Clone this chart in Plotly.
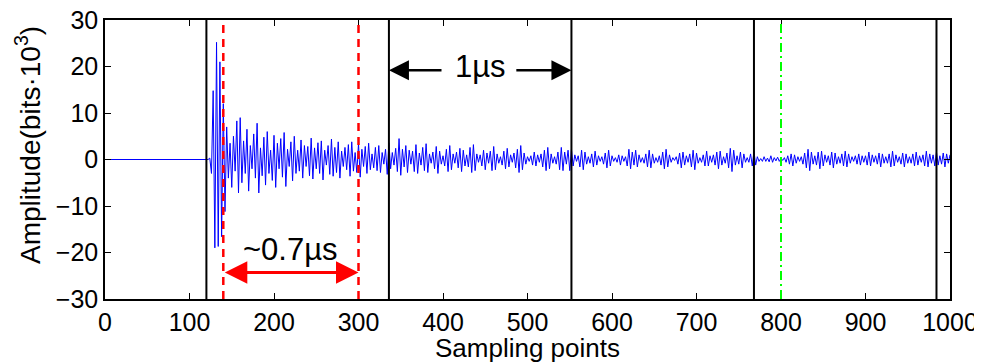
import plotly.graph_objects as go

# ---- data ----
x_ticks = [0, 100, 200, 300, 400, 500, 600, 700, 800, 900, 1000]
y_ticks = [-30, -20, -10, 0, 10, 20, 30]

# sample positions (every 2 samples) and amplitude (bits*10^3)
samples = list(range(0, 1001, 2))
baseline = [0.0] * 62  # samples 0..122, flat before the burst
burst = [
    0.3, -3, 14.8, -19, 25.2, -18.7, 21, -16.6, 12, -11.2,
    7, -4, 3.5, -6, 5, -2.5, 8.3, -7.2, 9, -5,
    4, -3, 6.5, -6.8, 3, -2, 5.5, -4, 7.8, -7.2,
    2.5, -3.5, 4.8, -5.5, 6, -3, 2, -4.5, 5.2, -6,
    3.5, -2, 4.5, -3.8, 5.8, -5.8, 2.2, -1.5, 3.8, -4.6,
    5, -3, 2, -2.5, 4.2, -4, 3, -1.5, 2.8, -3.5,
    4.6, -4.2, 2.5, -2, 3.6, -3, 4, -4.4, 2, -1.2,
    3, -3.2, 4.4, -3.6, 2.6, -2.8, 3.8, -4, 1.8, -1.5,
    2.6, -2.2, 3.2, -3.6, 3.8, -2.5, 1.5, -2.8, 3.4, -3.8,
    2.2, -1.5, 2.8, -3, 3.5, -2.2, 1.2, -1.8, 2.6, -2.4,
    3, -2.8, 1.5, -1, 2.2, -3.2, 3.6, -2, 1.5, -1.2,
    2.4, -2.6, 4.5, -3.4, 2.2, -1.6, 3, -2.8, 2, -1,
    1.8, -2.6, 3.2, -3, 1.4, -1.2, 2.6, -2.4, 3.4, -2.8,
    1.2, -0.8, 1.6, -2, 2.8, -3, 1.8, -1, 0.8, -1.4,
    2.2, -2.6, 3, -2.2, 1.2, -0.8, 1.6, -1.8, 2.4, -2.6,
    2, -1.4, 1, -1.6, 2.6, -2.8, 3.2, -2.4, 1.2, -0.6,
    1, -1.4, 2, -2.2, 1.4, -0.8, 1.8, -2.4, 2.8, -2.2,
    1.2, -0.8, 0.6, -1.2, 1.8, -2, 2.4, -1.6, 1, -0.6,
    1.4, -1.8, 2.2, -2.8, 3, -2.2, 1.4, -1, 0.6, -0.4,
    0.8, -1.2, 1.6, -1.4, 1, -0.6, 1.2, -1.6, 2, -2.4,
    2.6, -2, 1.2, -0.8, 0.6, -1, 1.6, -2.2, 2.6, -2.4,
    1.6, -1, 2, -2.4, 2.2, -1.4, 1, -0.4, 0.8, -1.6,
    2, -2.2, 1.6, -1, 0.6, -0.8, 1.2, -1.6, 1.8, -1.2,
    0.8, -0.4, 0.6, -1, 1.4, -1.8, 2, -1.4, 0.8, -0.4,
    0.4, -0.6, 1, -1.2, 0.8, -0.4, 0.6, -1.4, 2.2, -2,
    1.6, -1.2, 2, -1.6, 1, -0.6, 0.4, -0.8, 1.2, -1.6,
    2, -1.8, 1.2, -0.8, 0.4, -0.6, 0.8, -1.2, 1.6, -2,
    2.2, -1.6, 1, -0.6, 0.4, -0.2, 0.6, -1, 1.4, -1.8,
    1.6, -1.2, 0.8, -0.6, 1.2, -1.6, 2, -2.2, 1.4, -0.8,
    0.4, -0.6, 1, -1.4, 1.8, -1.4, 0.8, -0.6, 1, -1.2,
    1.6, -2, 1.8, -1.2, 0.6, -0.8, 1.4, -1.8, 2.4, -2.6,
    2, -1.2, 0.8, -1, 1.6, -1.8, 1.2, -0.6, 0.4, -0.6,
    1.2, -1.4, 1.8, -1.2, 0.6, -0.4, 0.2, -0.4, 0.6, -0.4,
    0.3, -0.5, 0.8, -0.6, 0.4, -0.3, 0.5, -0.4, 0.3, -0.2,
    0.4, -0.6, 0.8, -1, 1.2, -1.4, 1, -0.8, 0.6, -0.4,
    0.6, -1, 1.4, -1.8, 2.2, -2.4, 1.6, -1, 0.8, -1.2,
    1.6, -2, 1.8, -1.4, 1, -0.6, 0.8, -1.2, 1.6, -1.8,
    1.4, -1, 0.6, -0.8, 1.2, -1.4, 1.8, -1.6, 1.2, -0.8,
    0.6, -0.4, 0.8, -1, 1.2, -1.2, 0.8, -0.6, 0.8, -1.2,
    1.6, -1.4, 1, -0.6, 0.8, -1, 1.4, -1.6, 1.2, -0.8,
    0.6, -0.8, 1.2, -1.6, 1.8, -1.4, 1, -0.6, 0.6, -1,
    1.4, -1.6, 1.2, -0.8, 0.6, -0.8, 1.2, -1.4, 1.6, -1.2,
    0.8, -0.6, 1, -1.4, 1.8, -1.6, 1.2, -0.8, 1, -1.4,
    1.6, -1.2, 0.8, -1, 1.4, -1.6, 1.2, -0.8, 1,
]
amplitude = baseline + burst

# marker lines (sampling points)
period_lines = [120, 336, 552, 768, 984]   # black, 1 µs apart
window_lines = [140, 300]                  # red dashed
green_line = [800]                         # green dash-dot

# annotation positions (data units)
label_1us = ("1µs", 444, 20.1)
arrow_1us_y = 19.2
arrow_1us_left = (336, 400)    # (head, tail)
arrow_1us_right = (552, 485)
label_07 = ("~0.7µs", 219, -19.3)
arrow_07_y = -24.3

x_title = "Sampling points"
y_title = "Amplitude(bits·10<sup>3</sup>)"

FONT = "Liberation Sans, Arial, sans-serif"

fig = go.Figure()
fig.add_trace(go.Scatter(
    x=samples[:len(amplitude)], y=amplitude, mode="lines",
    line=dict(color="#0000ff", width=1), hoverinfo="skip", showlegend=False,
))

shapes = []
for xv in period_lines:
    shapes.append(dict(type="line", xref="x", yref="y", x0=xv, x1=xv, y0=-30, y1=30,
                       line=dict(color="black", width=2)))
for xv in window_lines:
    shapes.append(dict(type="line", xref="x", yref="y", x0=xv, x1=xv, y0=-30, y1=30,
                       line=dict(color="#ff0000", width=2.5, dash="8px,6px")))
for xv in green_line:
    shapes.append(dict(type="line", xref="x", yref="y", x0=xv, x1=xv, y0=-30, y1=30,
                       line=dict(color="#00ff00", width=2, dash="9px,4px,2px,4px")))

annotations = [
    dict(x=label_1us[1], y=label_1us[2], text=label_1us[0], showarrow=False,
         font=dict(family=FONT, size=31, color="black"), xref="x", yref="y"),
    dict(x=arrow_1us_left[0], y=arrow_1us_y, ax=arrow_1us_left[1], ay=arrow_1us_y,
         xref="x", yref="y", axref="x", ayref="y", text="", showarrow=True,
         arrowhead=2, arrowsize=1.6, arrowwidth=2.5, arrowcolor="black"),
    dict(x=arrow_1us_right[0], y=arrow_1us_y, ax=arrow_1us_right[1], ay=arrow_1us_y,
         xref="x", yref="y", axref="x", ayref="y", text="", showarrow=True,
         arrowhead=2, arrowsize=1.6, arrowwidth=2.5, arrowcolor="black"),
    dict(x=label_07[1], y=label_07[2], text=label_07[0], showarrow=False,
         font=dict(family=FONT, size=31, color="black"), xref="x", yref="y"),
    dict(x=window_lines[1], y=arrow_07_y, ax=window_lines[0], ay=arrow_07_y,
         xref="x", yref="y", axref="x", ayref="y", text="", showarrow=True,
         arrowhead=2, startarrowhead=2, arrowside="end+start", arrowsize=1.5,
         startarrowsize=1.5, arrowwidth=3, arrowcolor="#ff0000"),
    # axis titles
    dict(x=0.5, y=0, xref="paper", yref="paper", text=x_title, showarrow=False,
         xanchor="center", yanchor="middle", yshift=-49,
         font=dict(family=FONT, size=26, color="black")),
    dict(x=0, y=0.552, xref="paper", yref="paper", text=y_title, showarrow=False,
         textangle=-90, xanchor="center", yanchor="middle", xshift=-77,
         font=dict(family=FONT, size=28, color="black")),
]

# the page body adds an 8px margin, so the figure is sized/margined to compensate
fig.update_layout(
    width=974, height=354,
    margin=dict(l=97, r=32, t=12, b=63),
    paper_bgcolor="white", plot_bgcolor="white",
    shapes=shapes, annotations=annotations,
    font=dict(family=FONT, size=25, color="black"),
    xaxis=dict(
        range=[0, 1000], tickvals=x_ticks, ticktext=[str(v) for v in x_ticks],
        ticks="inside", ticklen=6, tickwidth=1, tickcolor="black",
        showline=True, linecolor="black", linewidth=1.5, mirror="ticks",
        showgrid=False, zeroline=False, automargin=False, ticklabeloverflow="allow",
        tickfont=dict(family=FONT, size=25),
    ),
    yaxis=dict(
        range=[-30, 30], tickvals=y_ticks,
        ticks="inside", ticklen=6, tickwidth=1, tickcolor="black",
        showline=True, linecolor="black", linewidth=1.5, mirror="ticks",
        showgrid=False, zeroline=False, automargin=False, ticklabeloverflow="allow",
        tickfont=dict(family=FONT, size=25),
    ),
)

fig.write_html("out.html")
